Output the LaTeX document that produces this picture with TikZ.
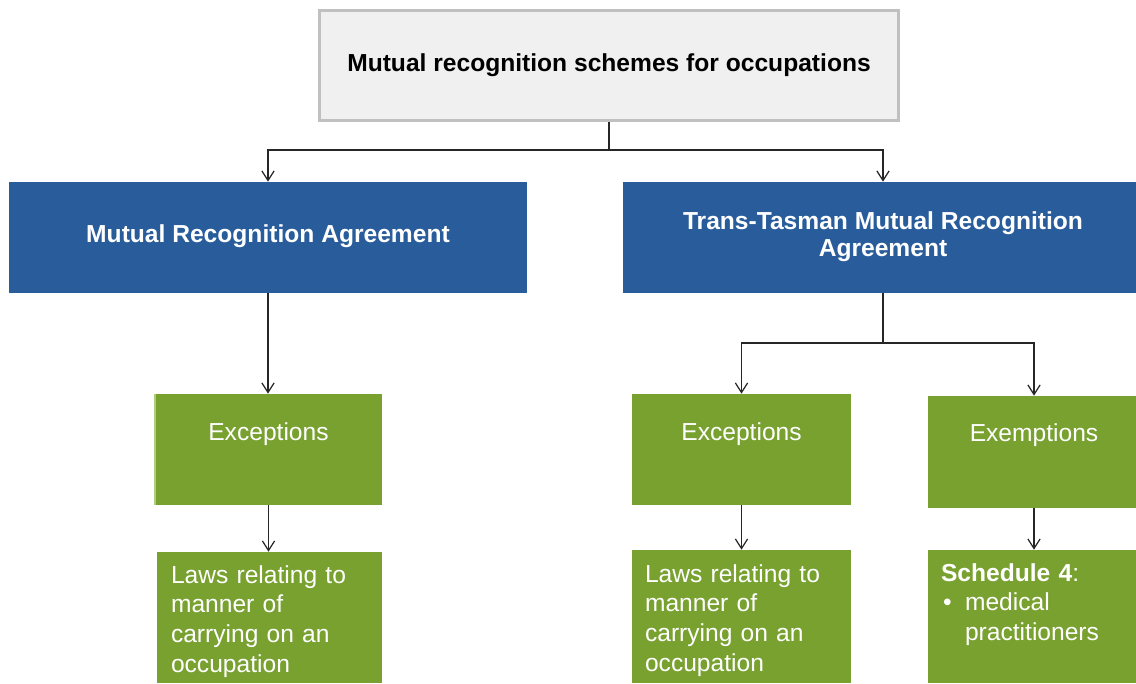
\documentclass[tikz,border=0pt]{standalone}
\usepackage{fontspec}
\setmainfont{Liberation Sans}
\usepackage{tikz}
\usetikzlibrary{arrows.meta}
\definecolor{sapphire}{RGB}{41, 92, 154}
\definecolor{grass}{RGB}{120, 161, 48}
\definecolor{sprout}{RGB}{172, 208, 122}
\definecolor{cloud}{RGB}{240, 240, 240}
\definecolor{silver}{RGB}{192, 192, 192}

\begin{document}
\begin{tikzpicture}[x=0.02cm, y=-0.02cm,
        headbox/.style={draw=silver, line width=1.6pt, fill=cloud, minimum width=11.58cm, minimum height=2.2cm,
                        font=\fontsize{14}{16}\selectfont\bfseries, inner sep=0pt},
        schemebox/.style={fill=sapphire, text=white, minimum height=2.22cm, align=center, inner sep=0pt,
                          font=\fontsize{14}{15.5}\selectfont\bfseries},
        kindbox/.style={fill=grass, text=white, inner sep=0pt, text height=0.92cm, text depth=1.30cm,
                        font=\fontsize{14}{17}\selectfont},
        notebox/.style={fill=grass, text=white, inner ysep=0pt, align=left,
                        font=\fontsize{14}{17}\selectfont},
        link/.style={draw=black!85, line width=0.7pt, -{Straight Barb[length=5.5pt, width=7pt]}}]
    \useasboundingbox (0,0) rectangle (1136,683);

    % top level
    \node[headbox] (mrs) at (609, 65.5) {Mutual recognition schemes for occupations};

    % the two agreements
    \node[schemebox, minimum width=10.36cm] (mra)   at ( 268.0, 237.5) {\strut Mutual Recognition Agreement};
    \node[schemebox, minimum width=10.40cm] (ttmra) at ( 883.0, 237.5) {\strut Trans-Tasman Mutual Recognition\\Agreement\strut};

    % exceptions and exemptions
    \node[kindbox, minimum width=4.54cm] (mraexc)  at ( 268.5, 449.5) {Exceptions};
    \node[kindbox, minimum width=4.38cm] (ttmexc)  at ( 741.5, 449.5) {Exceptions};
    \node[kindbox, minimum width=4.24cm, text height=0.90cm, text depth=1.34cm] (ttmexm) at (1034.0, 452.0) {Exemptions};
    \draw[sprout, line width=1.2pt] (mraexc.north west) -- (mraexc.south west);

    % what they cover
    \node[notebox, minimum width=4.50cm, text width=3.94cm, inner xsep=0.28cm, text height=0.62cm, text depth=2.00cm]
        (mralaws) at ( 269.5, 617.5) {Laws relating to\\manner of\\carrying on an\\occupation};
    \node[notebox, minimum width=4.38cm, text width=3.86cm, inner xsep=0.26cm, text height=0.64cm, text depth=2.02cm]
        (ttmlaws) at ( 741.5, 616.5) {Laws relating to\\manner of\\carrying on an\\occupation};
    \node[notebox, minimum width=4.24cm, text width=3.72cm, inner xsep=0.26cm, text height=0.62cm, text depth=2.04cm]
        (sched)   at (1034.0, 616.5) {\textbf{Schedule 4}:\\\makebox[0.48cm][l]{\hspace{0.04cm}\textbullet}\parbox[t]{3.1cm}{medical\\practitioners}};

    % connectors
    \coordinate (split1) at (609, 150);
    \coordinate (split2) at (883, 343);
    \draw[link] (mrs.south) -- (split1) -| (mra.north);
    \draw[link] (split1) -| (ttmra.north);
    \draw[link] (mra.south) -- (mra.south |- mraexc.north);
    \draw[link] (ttmra.south) -- (split2) -| (ttmexc.north);
    \draw[link] (split2) -| (ttmexm.north);
    \draw[link] (mraexc.south) -- (mraexc.south |- mralaws.north);
    \draw[link] (ttmexc.south) -- (ttmlaws.north);
    \draw[link] (ttmexm.south) -- (sched.north);
\end{tikzpicture}
\end{document}
